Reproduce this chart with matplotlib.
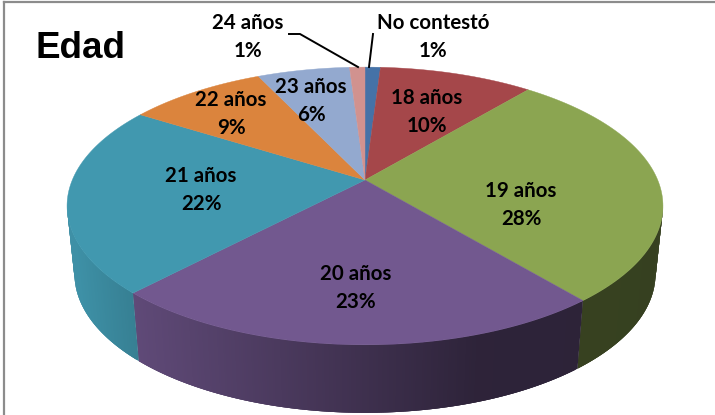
import matplotlib as mpl
mpl.use('Agg')
import matplotlib.pyplot as plt
import numpy as np

# data ####################

labels = ['No contestó', '18 años', '19 años', '20 años', '21 años', '22 años', '23 años', '24 años']
values = [1, 10, 28, 23, 22, 9, 6, 1]
title = 'Edad'

# styles ####################

colors = ['#4572A7', '#A5474A', '#8BA551', '#72588F', '#4198AF', '#DB843D', '#93A9CF', '#D1928F']
label_pos = [(433, 37), (427, 112), (521, 205), (356, 288), (201, 190), (231, 114), (311, 101), (248, 37)]

# tilted disc, pixel units
cx, cy = 365, 180
a, b, c = 292.7, 134, 0.187
depth = 68
shrink = 0.975

def project(pct):
    # percent clockwise from 12 o'clock -> point on the top face
    t = np.radians(np.asarray(pct, dtype=float) * 3.6)
    u, v = np.sin(t), np.cos(t)
    w = 1 + c * v
    return cx + a * u / w, cy - b * v / w

def shade(x):
    return np.interp(x, [75, 139, 300, 480, 660], [0.95, 0.83, 0.63, 0.40, 0.39])

fig = plt.figure(figsize=(7.15, 4.15), dpi=100)
ax = fig.add_axes([0, 0, 1, 1])
ax.set_xlim(0, 715)
ax.set_ylim(415, 0)
ax.axis('off')

ends = np.cumsum(values)
starts = ends - np.array(values)

# side wall first, only the front part of the rim shows
vis_start = 100 * np.degrees(np.arccos(-c)) / 360
step = 0.1
for s, e, col in zip(starts, ends, colors):
    lo, hi = max(s, vis_start), min(e, 100 - vis_start)
    if lo >= hi:
        continue
    base = np.array(mpl.colors.to_rgb(col))
    # walk right to left and let every quad overlap the previous one, no seams
    for p0 in np.arange(lo, hi, step):
        p1 = min(p0 + 3 * step, hi)
        x0, y0 = project(p0)
        x1, y1 = project(p1)
        bx0 = cx + (x0 - cx) * shrink
        bx1 = cx + (x1 - cx) * shrink
        ax.fill([x0, x1, bx1, bx0], [y0, y1, y1 + depth, y0 + depth],
                color=base * shade(x0), lw=0, zorder=2)

# top face
for s, e, col in zip(starts, ends, colors):
    px, py = project(np.linspace(s, e, 120))
    ax.fill(np.r_[cx, px], np.r_[cy, py], color=col, lw=0.3, zorder=3)

# labels
for name, val, (x, y) in zip(labels, values, label_pos):
    ax.text(x, y, '%s\n%d%%' % (name, val), ha='center', va='center', fontsize=14.8,
            family='Lato', weight='bold', color='black', linespacing=1.45, zorder=5)

# leader lines
ax.plot([289, 300, 358], [34, 34, 67], color='black', lw=1.4, zorder=4)
ax.plot([373, 369], [34, 67], color='black', lw=1.4, zorder=4)

ax.text(36, 48, title, ha='left', va='center', fontsize=26.5, family='Liberation Sans', weight='bold')

# chart frame
ax.plot([4, 4], [2.5, 415], color='#8c8c8c', lw=1.6, zorder=1)
ax.plot([4, 715], [2.5, 2.5], color='#8c8c8c', lw=1.6, zorder=1)

fig.savefig('out.png', dpi=100)
